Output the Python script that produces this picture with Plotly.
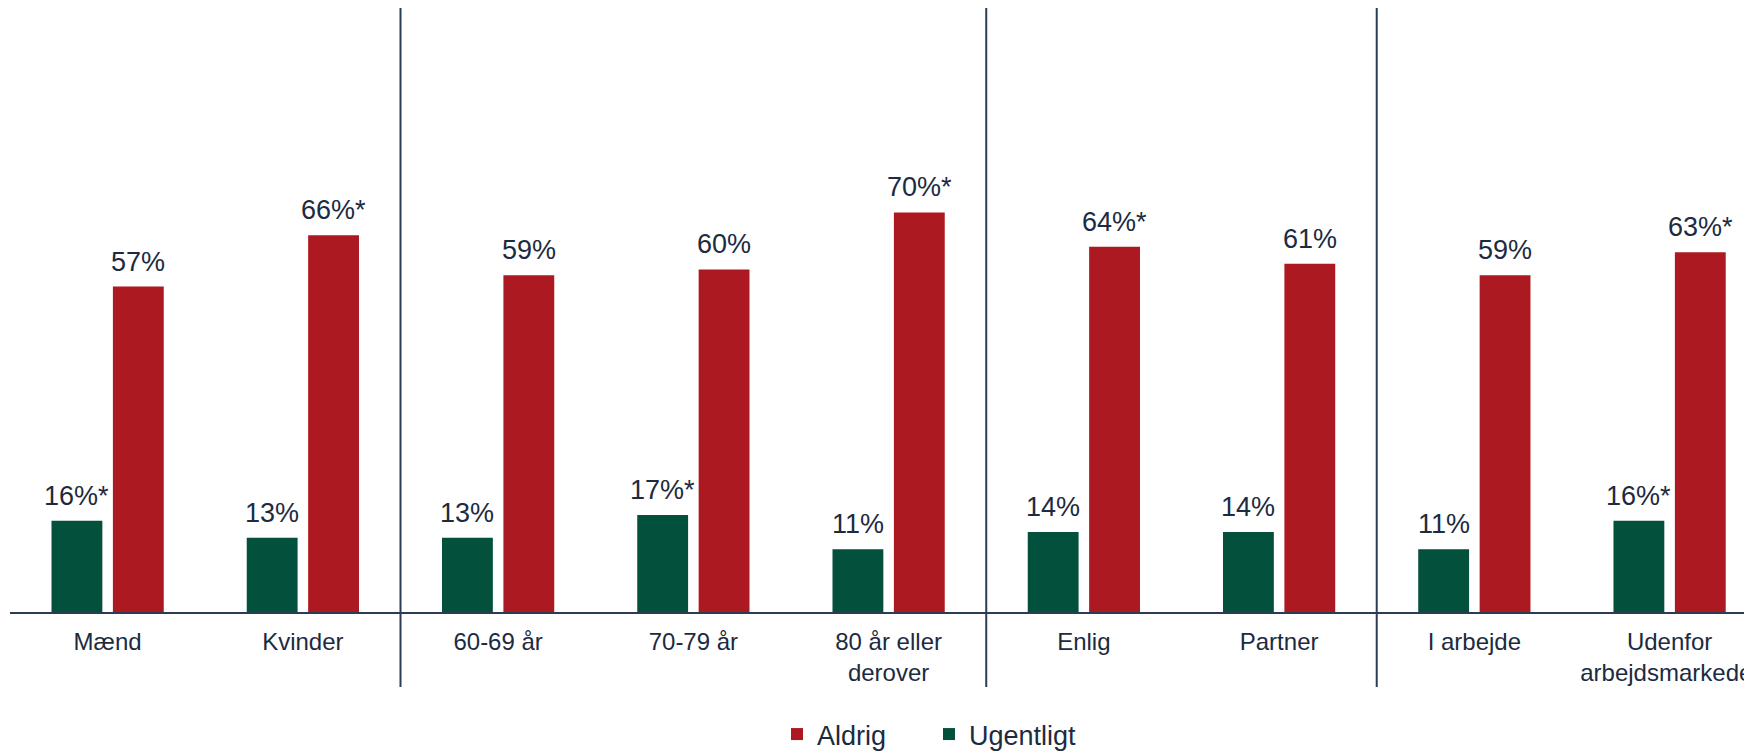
import plotly.graph_objects as go

categories = ["Mænd", "Kvinder", "60-69 år", "70-79 år", "80 år eller<br>derover",
              "Enlig", "Partner", "I arbejde", "Udenfor<br>arbejdsmarkedet"]
ugentligt = [16, 13, 13, 17, 11, 14, 14, 11, 16]
aldrig = [57, 66, 59, 60, 70, 64, 61, 59, 63]
ugentligt_labels = ["16%*", "13%", "13%", "17%*", "11%", "14%", "14%", "11%", "16%*"]
aldrig_labels = ["57%", "66%*", "59%", "60%", "70%*", "64%*", "61%", "59%", "63%*"]
separators = [1.5, 4.5, 6.5]

GREEN = "#03513D"
RED = "#AD1920"
TEXT = "#1C2B3F"
LINE = "#2B3D52"
FONT = "Liberation Sans, Arial, sans-serif"

BARGAP = 0.371
BARGROUPGAP = 0.172
offset = (1 - BARGAP) / 4

idx = list(range(len(categories)))

fig = go.Figure()
fig.add_trace(go.Bar(x=idx, y=ugentligt, name="Ugentligt", marker_color=GREEN,
                     marker_line_width=0, hoverinfo="skip"))
fig.add_trace(go.Bar(x=idx, y=aldrig, name="Aldrig", marker_color=RED,
                     marker_line_width=0, hoverinfo="skip"))

annotations = []
for i in idx:
    annotations.append(dict(x=i - offset, y=ugentligt[i], text=ugentligt_labels[i],
                            xref="x", yref="y", showarrow=False, yanchor="bottom",
                            yshift=8, font=dict(size=27, color=TEXT, family=FONT)))
    annotations.append(dict(x=i + offset, y=aldrig[i], text=aldrig_labels[i],
                            xref="x", yref="y", showarrow=False, yanchor="bottom",
                            yshift=8, font=dict(size=27, color=TEXT, family=FONT)))

shapes = [dict(type="line", xref="x", yref="paper", x0=s, x1=s, y0=-0.124, y1=1,
               line=dict(color=LINE, width=2)) for s in separators]

fig.update_layout(
    width=1744, height=743,
    margin=dict(l=2, r=0, t=0, b=139, autoexpand=False),
    paper_bgcolor="white", plot_bgcolor="white",
    barmode="group", bargap=BARGAP, bargroupgap=BARGROUPGAP,
    font=dict(family=FONT, color=TEXT),
    annotations=annotations, shapes=shapes,
    showlegend=True,
    legend=dict(orientation="h", traceorder="reversed", font=dict(size=27, color=TEXT),
                xref="paper", x=0.4403, xanchor="left", entrywidth=107,
                yref="container", y=0.0222, yanchor="middle"),
    xaxis=dict(tickmode="array", tickvals=idx, ticktext=categories,
               range=[-0.5, 8.422], showgrid=False, zeroline=False,
               showline=True, linecolor=LINE, linewidth=2, automargin=False,
               ticks="", ticklabelstandoff=7, ticklabeloverflow="allow",
               tickfont=dict(size=24, color=TEXT, family=FONT),
               fixedrange=True),
    yaxis=dict(range=[0, 105.8], visible=False, fixedrange=True, automargin=False),
)

fig.write_html("out.html")
